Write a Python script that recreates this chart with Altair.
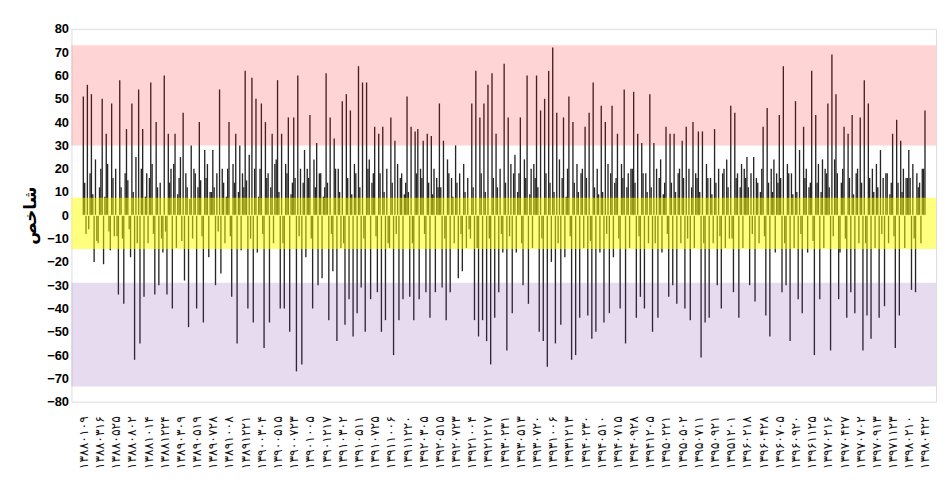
import altair as alt
import pandas as pd

# ---- series values (one bar per value, 12 per label interval) ----
index_values = [
    51, 14, -8, 56, -6, 18, 52, 9, -20, 24, -11, -12,
    12, 20, 50, -21, 8, 35, 22, -7, -15, 48, 16, -9,
    20, -9, -34, 58, 12, -10, -38, 18, 37, 15, -6, -18,
    48, 10, -62, 25, -12, 54, -55, 20, 37, -35, 8, 18,
    -12, 16, 57, 22, -8, -34, 40, 12, -30, 14, -10, -16,
    60, -7, -34, 35, 14, 20, -40, 22, 35, -14, 9, 16,
    25, -11, 44, -28, 18, 12, -48, 7, 30, -10, 20, 18,
    -40, 12, 40, 15, -9, -46, 28, 16, 22, -18, 10, 10,
    28, 12, -30, 18, -7, 54, -25, 20, 14, -12, 8, 20,
    40, -9, -35, 22, 14, 35, -55, 10, 30, -15, 18, 12,
    62, 15, -40, 26, -10, 59, -46, 20, 50, -16, 8, 20,
    48, -8, -57, 40, 16, 18, -46, 12, 35, -12, 22, 24,
    58, 10, -40, 35, -12, -40, 22, 18, 42, -50, 9, 14,
    42, 16, -67, 60, -9, 20, -64, 14, 28, -18, 20, 16,
    43, -10, -40, 24, 12, 31, -30, 18, 18, -27, 8, 12,
    61, 14, -45, 42, -8, -24, 33, 20, -54, 20, 10, -14,
    49, -12, -47, 52, 16, -36, 45, 9, -52, 22, 18, -42,
    64, 12, -31, 57, -10, -50, 57, 20, 24, -36, 14, 18,
    38, -9, -33, 35, 18, -50, 38, 10, -45, 20, -12, -14,
    42, 14, -60, 32, -8, 22, -45, 16, 18, -36, 9, 14,
    51, 10, -35, 38, -12, -45, 36, 18, 37, -36, 20, 16,
    32, -8, -33, 35, 14, -44, 34, 9, 20, -33, 16, 12,
    48, 12, -31, 32, -10, -45, 24, 18, -33, 16, 8, -12,
    30, 14, -27, 18, -8, -24, 22, 10, -14, 16, -6, -10,
    48, 12, -45, 62, -14, -52, 42, 18, -45, 48, 10, -54,
    56, -10, -64, 61, 16, -44, 35, 12, -33, 20, -8, -16,
    65, 14, -58, 42, -9, 22, -42, 18, 26, -16, 10, 18,
    42, -12, -30, 24, 16, 60, -38, 9, 20, -14, 22, 16,
    60, 12, -50, 45, -10, -54, 50, 18, -65, 62, 14, -20,
    72, 10, -55, 44, -12, 24, -47, 16, 42, -18, 8, 20,
    51, -9, -62, 40, 14, -60, 22, 10, -44, 18, 20, -14,
    38, 16, -43, 44, -11, -53, 57, 12, -50, 20, 9, -16,
    47, 10, -46, 40, -8, 22, -42, 18, 47, -18, 14, 16,
    35, -10, -40, 22, 16, 54, -55, 12, 18, -14, 20, 20,
    53, 14, -44, 35, -9, -35, 31, 18, -40, 18, 10, -12,
    52, 12, -50, 31, -12, 20, -44, 16, 24, -16, 9, 14,
    38, -8, -35, 35, 14, -30, 35, 10, -38, 18, 20, -12,
    32, 16, -40, 38, -10, 20, -45, 12, 40, -14, 18, 16,
    36, 10, -61, 36, -12, -46, 22, 16, -44, 16, 9, -12,
    37, 14, -30, 20, -9, -40, 18, 20, -14, 24, 12, -10,
    47, -10, -33, 44, 16, 18, -44, 12, 22, -14, 20, 16,
    25, 12, -30, 18, -8, 25, -37, 16, 14, -12, 10, 20,
    38, -9, -43, 46, 14, -52, 20, 10, 24, -16, 18, 14,
    43, 16, -33, 64, -12, -30, 22, 18, -54, 18, 9, -14,
    49, 10, -36, 28, -8, -42, 38, 16, 20, -16, 12, 14,
    62, -11, -60, 43, 14, 22, -36, 10, 24, -14, 20, 18,
    48, 12, -58, 69, -9, 24, 52, 18, -36, -16, 14, 20,
    38, -10, -44, 35, 16, -33, 43, 9, -42, 18, 20, -12,
    42, 14, -58, 58, -12, -43, 48, 16, -53, 20, 10, -14,
    22, 12, -44, 28, -8, 16, -39, 18, 18, -12, 9, 14,
    35, -9, -57, 41, 14, -43, 32, 10, 20, -14, 16, 16,
    28, 16, -32, 22, -10, -33, 18, 12, 14, -12, 20, 20,
    45,
]

# ---- x tick labels (one every 12 values) ----
date_labels = [
    "۱۳۸۸۰۱۰۹", "۱۳۸۸۰۳۱۶", "۱۳۸۸۰۵۲۵", "۱۳۸۸۰۸۰۲", "۱۳۸۸۱۰۱۴", "۱۳۸۸۱۲۲۴",
    "۱۳۸۹۰۳۰۹", "۱۳۸۹۰۵۱۹", "۱۳۸۹۰۷۲۸", "۱۳۸۹۱۰۰۸", "۱۳۸۹۱۲۲۱",
    "۱۳۹۰۰۳۰۴", "۱۳۹۰۰۵۱۵", "۱۳۹۰۰۷۲۳", "۱۳۹۰۱۰۰۵", "۱۳۹۰۱۲۱۷",
    "۱۳۹۱۰۳۰۲", "۱۳۹۱۰۵۱۱", "۱۳۹۱۰۷۲۵", "۱۳۹۱۱۰۰۶", "۱۳۹۱۱۲۲۰",
    "۱۳۹۲۰۳۰۵", "۱۳۹۲۰۵۱۵", "۱۳۹۲۰۷۲۳", "۱۳۹۲۱۰۰۴", "۱۳۹۲۱۲۱۷",
    "۱۳۹۳۰۲۳۱", "۱۳۹۳۰۵۱۳", "۱۳۹۳۰۷۲۰", "۱۳۹۳۱۰۰۶", "۱۳۹۳۱۲۱۳",
    "۱۳۹۴۰۲۳۰", "۱۳۹۴۰۵۱۰", "۱۳۹۴۰۷۱۵", "۱۳۹۴۰۹۲۸", "۱۳۹۴۱۲۰۵",
    "۱۳۹۵۰۲۲۱", "۱۳۹۵۰۵۰۲", "۱۳۹۵۰۷۱۱", "۱۳۹۵۰۹۲۱", "۱۳۹۵۱۲۰۱",
    "۱۳۹۶۰۲۱۸", "۱۳۹۶۰۴۲۸", "۱۳۹۶۰۷۰۵", "۱۳۹۶۰۹۲۰", "۱۳۹۶۱۱۲۵",
    "۱۳۹۷۰۲۱۶", "۱۳۹۷۰۴۲۷", "۱۳۹۷۰۷۰۲", "۱۳۹۷۰۹۱۳", "۱۳۹۷۱۱۲۳",
    "۱۳۹۸۰۲۱۰", "۱۳۹۸۰۴۲۲",
]
label_step = 12

y_ticks = [-80, -70, -60, -50, -40, -30, -20, -10, 0, 10, 20, 30, 40, 50, 60, 70, 80]

# ---- background zones ----
band_names = ["high", "neutral", "low"]
band_low = [30, -14.5, -73.5]
band_high = [73, 7.5, -29]
band_colors = ["#FF0000", "#FFFF00", "#7030A0"]
band_alpha = [0.17, 0.5, 0.17]

y_title = "شاخص"

W, H = 872, 376

df = pd.DataFrame({"i": list(range(len(index_values))), "v": index_values})
df["zero"] = 0
bands = pd.DataFrame({"name": band_names, "lo": band_low, "hi": band_high,
                      "c": band_colors, "o": band_alpha})
zero_df = pd.DataFrame({"zero": [0]})

xscale = alt.Scale(domain=[-8.8, 632.2], nice=False, zero=False)
yscale = alt.Scale(domain=[-80, 80], nice=False, zero=False)

label_expr = ("[" + ",".join("'%s'" % s for s in date_labels) + "]"
              + "[round(datum.value / %d)]" % label_step)

xaxis = alt.Axis(
    values=[k * label_step for k in range(len(date_labels))],
    labelExpr=label_expr,
    labelAngle=270,
    labelFont="DejaVu Sans",
    labelFontSize=12.5,
    labelColor="#111111",
    labelPadding=14,
    labelOverlap=False,
    ticks=False,
    domain=False,
    grid=False,
)
yaxis = alt.Axis(
    values=y_ticks,
    labelFont="Liberation Sans",
    labelFontWeight="bold",
    labelFontSize=13,
    labelColor="#000000",
    labelPadding=3,
    ticks=False,
    domain=False,
    grid=False,
    titleFont="DejaVu Sans",
    titleFontWeight="bold",
    titleFontSize=17,
    titleColor="#000000",
    titlePadding=7,
)

bars = alt.Chart(df).mark_rule(color="#262626", strokeWidth=1.35).encode(
    x=alt.X("i:Q", scale=xscale, axis=xaxis, title=None),
    y=alt.Y("v:Q", scale=yscale, axis=yaxis, title=y_title),
    y2="zero:Q",
)

zero_line = alt.Chart(zero_df).mark_rule(color="#ffffff", strokeWidth=1).encode(
    y=alt.Y("zero:Q", scale=yscale, axis=yaxis, title=y_title),
)

zones = alt.Chart(bands).mark_rect().encode(
    x=alt.value(0),
    x2=alt.value(W),
    y=alt.Y("lo:Q", scale=yscale, axis=yaxis, title=y_title),
    y2="hi:Q",
    color=alt.Color("c:N", scale=None),
    opacity=alt.Opacity("o:Q", scale=None),
)

chart = alt.layer(bars, zero_line, zones).properties(
    width=W,
    height=H,
    autosize=alt.AutoSizeParams(type="none"),
    padding={"left": 64, "top": 19, "right": 5, "bottom": 90},
).configure_view(stroke=None).configure(background="#ffffff")

chart.save("out.html", embed_options={"renderer": "svg", "actions": False})
